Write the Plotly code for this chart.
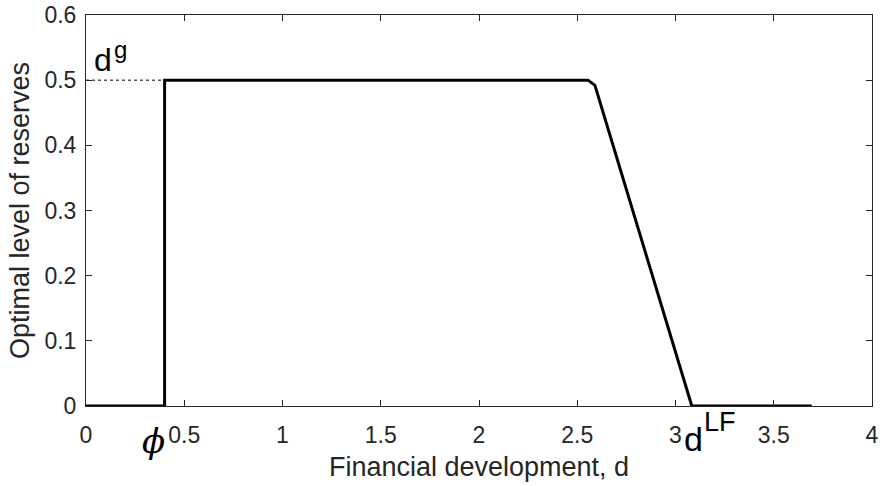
import plotly.graph_objects as go

# Optimal reserve level as a function of financial development
dev = [0.0, 0.4, 0.4, 2.555, 2.59, 3.083, 3.693]
reserves = [0.0, 0.0, 0.5, 0.5, 0.492, 0.0, 0.0]

# Reference level d^g, drawn dotted from the axis to the jump
guide_x = [0.0, 0.4]
guide_y = [0.5, 0.5]

x_ticks = [0, 0.5, 1, 1.5, 2, 2.5, 3, 3.5, 4]
x_labels = ["0", "0.5", "1", "1.5", "2", "2.5", "3", "3.5", "4"]
y_ticks = [0, 0.1, 0.2, 0.3, 0.4, 0.5, 0.6]
y_labels = ["0", "0.1", "0.2", "0.3", "0.4", "0.5", "0.6"]

axis_col = "#262626"
font_fam = "Liberation Sans, Arial, sans-serif"
serif_fam = "DejaVu Serif, Liberation Serif, serif"

M_L, M_R, M_T, M_B = 86, 8, 15, 80
H = 486
PLOT_H = H - M_T - M_B


def py(pix):
    """Convert a pixel row of the page into paper y."""
    return (H - M_B - pix) / PLOT_H


fig = go.Figure()
fig.add_trace(go.Scatter(x=guide_x, y=guide_y, mode="lines",
                         line=dict(color="black", width=1, dash="dot"),
                         hoverinfo="skip", showlegend=False))
fig.add_trace(go.Scatter(x=dev, y=reserves, mode="lines",
                         line=dict(color="black", width=3),
                         showlegend=False))

fig.update_layout(
    width=880, height=H,
    margin=dict(l=M_L, r=M_R, t=M_T, b=M_B, autoexpand=False),
    paper_bgcolor="white", plot_bgcolor="white",
    font=dict(family=font_fam, size=23, color=axis_col),
    xaxis=dict(range=[0, 4], tickvals=x_ticks, ticktext=x_labels,
               ticks="inside", ticklen=6, tickcolor=axis_col,
               tickfont=dict(size=23, color=axis_col), ticklabelstandoff=8,
               showline=True, linecolor=axis_col, linewidth=1, mirror="allticks",
               showgrid=False, zeroline=False,
               title=dict(text="Financial development, d", standoff=10,
                          font=dict(size=27, color=axis_col))),
    yaxis=dict(range=[0, 0.6], tickvals=y_ticks, ticktext=y_labels,
               ticks="inside", ticklen=6, tickcolor=axis_col,
               tickfont=dict(size=23, color=axis_col), ticklabelstandoff=4,
               showline=True, linecolor=axis_col, linewidth=1, mirror="allticks",
               showgrid=False, zeroline=False,
               title=dict(text="Optimal level of reserves", standoff=6,
                          font=dict(size=27, color=axis_col))),
)

# d^g label next to the dotted guide
fig.add_annotation(x=0.03, y=py(60), xref="x", yref="paper", text="d",
                   showarrow=False, xanchor="left", yanchor="middle",
                   font=dict(size=32, color="black", family=font_fam))
fig.add_annotation(x=0.13, y=py(49), xref="x", yref="paper", text="g",
                   showarrow=False, xanchor="left", yanchor="middle",
                   font=dict(size=24, color="black", family=font_fam))

# phi under the jump
fig.add_annotation(x=0.345, y=py(441), xref="x", yref="paper", text="<i>ϕ</i>",
                   showarrow=False, xanchor="center", yanchor="middle",
                   font=dict(size=34, color="black", family=serif_fam))

# d^LF under the point where reserves reach zero
fig.add_annotation(x=3.035, y=py(439), xref="x", yref="paper", text="d",
                   showarrow=False, xanchor="left", yanchor="middle",
                   font=dict(size=34, color="black", family=font_fam))
fig.add_annotation(x=3.135, y=py(422), xref="x", yref="paper", text="LF",
                   showarrow=False, xanchor="left", yanchor="middle",
                   font=dict(size=27, color="black", family=font_fam))

fig.write_html("out.html",
               post_script="document.body.style.margin='0';"
                           "document.body.style.overflow='hidden';")
